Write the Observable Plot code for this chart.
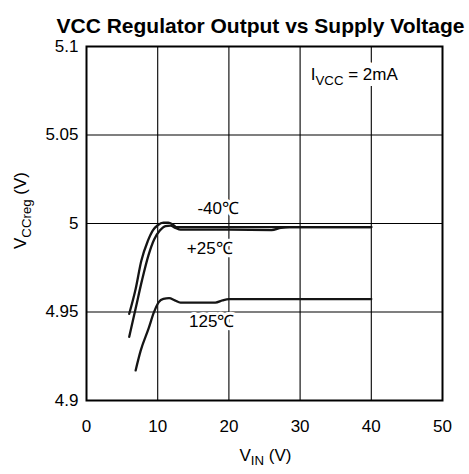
<!DOCTYPE html>
<html><head><meta charset="utf-8">
<script src="https://cdn.jsdelivr.net/npm/d3@7"></script>
<script src="https://cdn.jsdelivr.net/npm/@observablehq/plot@0.6"></script>
<style>body{margin:0;background:#fff;}</style>
</head><body><div id="chart"></div>
<script>
// --- data ---
const vinM40 = [6.0, 6.9, 7.7, 8.6, 9.3, 10.0, 10.8, 11.5, 12.1, 12.6, 13.5, 20, 30, 40];
const vccM40 = [4.949, 4.963, 4.979, 4.990, 4.996, 4.999, 5.0005, 5.0005, 4.9995, 4.998, 4.998, 4.998, 4.998, 4.998];
const vinP25 = [6.0, 6.9, 7.8, 8.7, 9.5, 10.3, 11.1, 11.8, 12.5, 13.2, 20, 26, 27.3, 28.5, 40];
const vccP25 = [4.936, 4.952, 4.968, 4.982, 4.991, 4.996, 4.9985, 4.9988, 4.9975, 4.9965, 4.9965, 4.9963, 4.9975, 4.998, 4.998];
const vin125 = [6.9, 7.6, 8.75, 9.45, 10.15, 10.8, 11.6, 12.4, 13.2, 18.1, 19.1, 20, 40];
const vcc125 = [4.917, 4.928, 4.941, 4.9496, 4.9556, 4.9574, 4.9578, 4.9566, 4.9553, 4.9553, 4.9566, 4.9573, 4.9573];
const xTicks = [0, 10, 20, 30, 40, 50];
const yTicks = [4.9, 4.95, 5, 5.05, 5.1];
const yTickLabels = ["4.9", "4.95", "5", "5.05", "5.1"];
const xGrid = [10, 20, 30, 40];
const yGrid = [4.95, 5, 5.05];
const seriesNames = ["-40℃", "+25℃", "125℃"];
const labelVin = [18.5, 17.3, 17.6];
const labelVcc = [5.0085, 4.986, 4.9445];
const noteText = "IVCC = 2mA";
const noteVin = 31.5, noteVcc = 5.084;
const title = "VCC Regulator Output vs Supply Voltage";

const rows = [];
[[vinM40, vccM40], [vinP25, vccP25], [vin125, vcc125]].forEach(([xs, ys], k) =>
  xs.forEach((x, i) => rows.push({series: seriesNames[k], vin: x, vcc: ys[i]})));
const labels = seriesNames.map((s, i) => ({s, vin: labelVin[i], vcc: labelVcc[i]}));
const notes = [{t: noteText, vin: noteVin, vcc: noteVcc}];

const FS = 17;
const chart = Plot.plot({
  width: 469, height: 474,
  marginTop: 46, marginBottom: 74, marginLeft: 86, marginRight: 27,
  style: {fontFamily: "'Liberation Sans', Arial, sans-serif", fontSize: FS + "px", background: "white", color: "black"},
  x: {domain: [0, 50], ticks: xTicks, tickSize: 0, tickPadding: 19, label: null},
  y: {domain: [4.9, 5.1], ticks: yTicks, tickFormat: d => yTickLabels[yTicks.indexOf(d)] ?? String(d), tickSize: 0, tickPadding: 8, label: null},
  marks: [
    Plot.gridX(xGrid, {stroke: "black", strokeOpacity: 1, strokeWidth: 1.1}),
    Plot.gridY(yGrid, {stroke: "black", strokeOpacity: 1, strokeWidth: 1.1}),
    Plot.line(rows, {x: "vin", y: "vcc", z: "series", stroke: "#151515", strokeWidth: 2.3, curve: "monotone-x"}),
    Plot.text(labels, {x: "vin", y: "vcc", text: "s", fontSize: FS, fill: "black", stroke: "white", strokeWidth: 6, paintOrder: "stroke"}),
    Plot.text(notes, {x: "vin", y: "vcc", text: "t", textAnchor: "start", fontSize: FS, fill: "white", stroke: "white", strokeWidth: 12, className: "notebg"}),
    Plot.text(notes, {x: "vin", y: "vcc", text: "t", textAnchor: "start", fontSize: FS, fill: "black", className: "note"}),
    Plot.frame({stroke: "black", strokeWidth: 2}),
    Plot.text([title], {frameAnchor: "top", text: d => d, dy: -28, dx: -4, fontWeight: "bold", fontSize: 21}),
    Plot.text(["VIN (V)"], {frameAnchor: "bottom", text: d => d, dy: 60, dx: 1, fontSize: FS, className: "xlab"}),
    Plot.text(["VCCreg (V)"], {frameAnchor: "left", textAnchor: "middle", text: d => d, dx: -66, dy: -13, rotate: -90, fontSize: FS, className: "ylab"})
  ]
});
document.getElementById("chart").appendChild(chart);

function subscript(cls, parts) {
  d3.select(chart).selectAll("." + cls + " text").each(function() {
    const t = d3.select(this);
    t.text(null);
    let shifted = false;
    parts.forEach(([s, sub]) => {
      const ts = t.append("tspan").text(s);
      if (sub && !shifted) { ts.attr("dy", FS * 0.28).attr("font-size", FS * 0.78); shifted = true; }
      else if (!sub && shifted) { ts.attr("dy", -FS * 0.28); shifted = false; }
    });
  });
}
const noteParts = [["I", 0], ["VCC", 1], [" = 2mA", 0]];
subscript("notebg", noteParts);
subscript("note", noteParts);
subscript("xlab", [["V", 0], ["IN", 1], [" (V)", 0]]);
subscript("ylab", [["V", 0], ["CCreg", 1], [" (V)", 0]]);
</script>
</body></html>
